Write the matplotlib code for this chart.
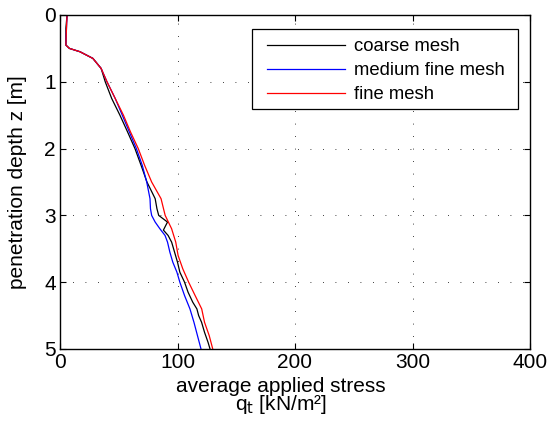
import matplotlib as mpl; mpl.use("Agg")
import matplotlib.pyplot as plt
from matplotlib.patches import Rectangle

mpl.rcParams.update({"font.family":"sans-serif","font.sans-serif":["Liberation Sans","DejaVu Sans"],
 "font.size":15,"axes.linewidth":1.0,"xtick.direction":"in","ytick.direction":"in",
 "xtick.top":True,"ytick.right":True})

# penetration depth z [m] and average applied stress q_t [kN/m2] per mesh
z_coarse=[0,0.2,0.45,0.5,0.55,0.65,0.8,1.0,1.25,1.5,1.75,2.0,2.25,2.5,2.75,2.9,3.0,3.1,3.15,
          3.22,3.3,3.4,3.55,3.7,3.85,4.0,4.15,4.3,4.4,4.5,4.6,4.75,4.9,5.0]
q_coarse=[6,5,5,8,17,28,35,38.5,44,51,57.5,63.8,69,74,81,82.5,84,91.5,90,88,92,95,97.5,100,
          102,106,109,113,116.5,118,120.5,123,126,127.7]
z_medium=[0,0.2,0.45,0.5,0.55,0.65,0.8,1.0,1.25,1.5,1.75,2.0,2.25,2.5,2.75,2.9,3.0,3.1,3.2,
          3.3,3.4,3.55,3.7,3.85,4.0,4.2,4.4,4.6,4.8,5.0]
q_medium=[6,5.5,5,8,17,28,35,40,47,53,59,65,70,73.8,76.6,77,78,81,85,89.4,91.5,93.5,96,99.5,
          102,106,110.6,114,117,120]
z_fine=[0,0.2,0.45,0.5,0.55,0.65,0.8,1.0,1.25,1.5,1.75,2.0,2.25,2.5,2.75,3.0,3.2,3.4,3.6,3.8,
        4.0,4.2,4.4,4.6,4.8,5.0]
q_fine=[6,5.5,5,8,17,28,35,40,47,54,60,66.6,72,78,86,89.5,95,98.5,100.5,104.5,109.5,115,
        120.6,123,127,130]

fig=plt.figure(figsize=(5.47,4.29),dpi=100)
ax=fig.add_axes([60/547,1-349/429,470/547,334/429])
ax.plot(q_coarse,z_coarse,color="k",lw=0.9,label="coarse mesh")
ax.plot(q_medium,z_medium,color="#0000ff",lw=0.9,label="medium fine mesh")
ax.plot(q_fine,z_fine,color="#ff0000",lw=0.9,label="fine mesh")

ax.set_xlim(0,400); ax.set_ylim(5,0)
ax.set_xticks([0,100,200,300,400]); ax.set_yticks([0,1,2,3,4,5])
ax.grid(True,color="k",lw=0.6,linestyle=(0,(1,14)))
ax.tick_params(length=4,width=0.8,labelsize=15,pad=3)

ax.set_xlabel("average applied stress\nq$_\\mathrm{t}$ [kN/m²]",fontsize=15,linespacing=0.8)
ax.xaxis.set_label_coords(0.47,-0.085)
ax.set_ylabel("penetration depth z [m]",fontsize=15)
ax.yaxis.set_label_coords(-0.07,0.5)

# legend box with wide side margins, entries placed inside it
ax.add_patch(Rectangle((0.4085,0.7186),0.566,0.2394,transform=ax.transAxes,fc="white",
                       ec="k",lw=0.9,zorder=4))
leg=ax.legend(loc="upper left",bbox_to_anchor=(0.4405,0.93),fontsize=13.3,handlelength=4.2,
              frameon=False,borderpad=0,labelspacing=0.38,handletextpad=0.5,borderaxespad=0)
leg.set_zorder(5)

fig.savefig("out.png",dpi=100)
